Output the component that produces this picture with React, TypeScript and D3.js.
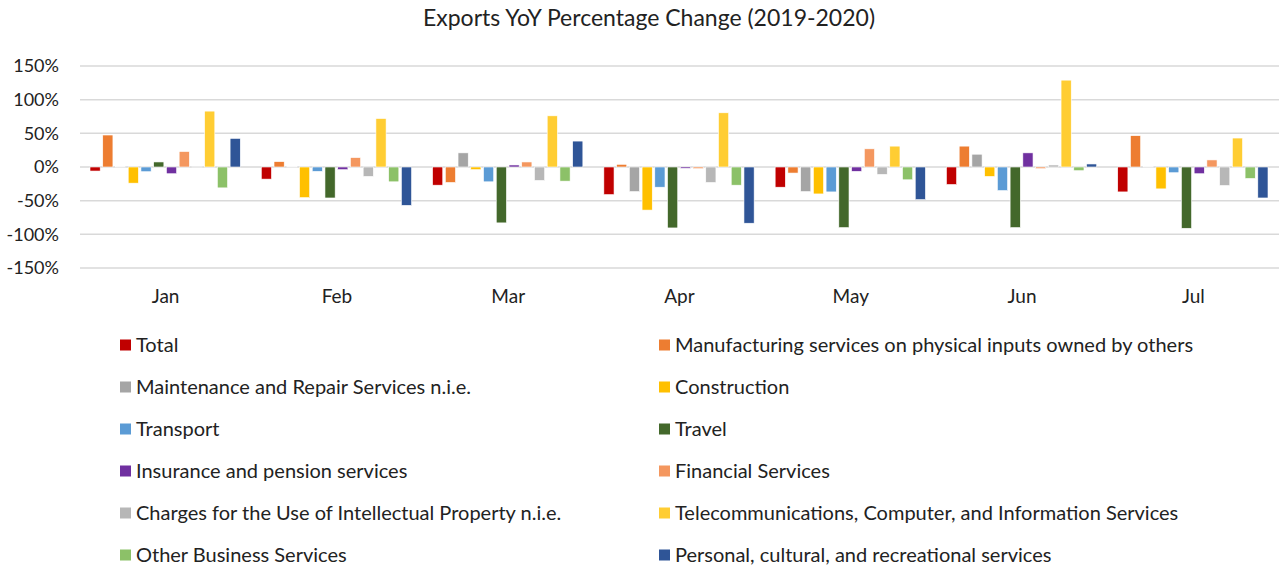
import React from "react";
import * as d3 from "d3";

const months = ["Jan", "Feb", "Mar", "Apr", "May", "Jun", "Jul"];

const seriesNames = [
  "Total",
  "Manufacturing services on physical inputs owned by others",
  "Maintenance and Repair Services n.i.e.",
  "Construction",
  "Transport",
  "Travel",
  "Insurance and pension services",
  "Financial Services",
  "Charges for the Use of Intellectual Property n.i.e.",
  "Telecommunications, Computer, and Information Services",
  "Other Business Services",
  "Personal, cultural, and recreational services",
];

const seriesColors = [
  "#C00000", "#ED7D31", "#A5A5A5", "#FFC000", "#5B9BD5", "#43682B",
  "#7030A0", "#F4975F", "#B7B7B7", "#FFCD33", "#8CC168", "#2F5597",
];

const total = [-6, -18, -27, -41, -30, -26, -37];
const manufacturing = [47.5, 8, -23, 4, -9, 31, 46.5];
const maintenance = [1, 1, 21, -36.5, -36.5, 19, 1];
const construction = [-24, -45.5, -4, -64, -40, -14, -32.5];
const transport = [-7, -6.5, -22, -30, -37, -35, -8.5];
const travel = [7.5, -46, -83, -90.5, -90, -90, -91];
const insurance = [-10, -4, 3, -2, -6.5, 21, -10];
const financial = [23, 14, 7.5, -2.5, 27, -2.5, 10.5];
const charges = [0.3, -14, -20, -23, -11, 3, -27.5];
const telecom = [83, 72, 76, 80.5, 31, 129, 43];
const otherBusiness = [-31, -22, -21, -27, -19, -5.5, -17];
const personal = [42.5, -57, 38.5, -83.5, -48.5, 4.5, -46];

const seriesValues = [
  total, manufacturing, maintenance, construction, transport, travel,
  insurance, financial, charges, telecom, otherBusiness, personal,
];

const yTicks = [-150, -100, -50, 0, 50, 100, 150];

const W = 1283;
const H = 567;
const FONT = "Lato, 'Open Sans', sans-serif";

export default function App() {
  const x0 = d3.scaleBand<string>().domain(months).range([80, 1279]).paddingInner(0).paddingOuter(0);
  const bw = x0.bandwidth();
  const x1 = d3
    .scaleBand<number>()
    .domain(d3.range(seriesNames.length))
    .range([10, bw - 11])
    .paddingInner(0.2)
    .paddingOuter(0);
  const y = d3.scaleLinear().domain([-150, 150]).range([268, 66]);

  return (
    <svg width={W} height={H} style={{ position: "absolute", left: 0, top: 0, background: "#fff" }} fontFamily={FONT}>
      <rect x={0} y={0} width={W} height={H} fill="#fff" />
      <text x={649} y={18} dy="0.35em" textAnchor="middle" fontSize={23} fill="#222">
        Exports YoY Percentage Change (2019-2020)
      </text>
      {yTicks.map((t) => (
        <g key={t}>
          <line x1={80} x2={1279} y1={y(t)} y2={y(t)} stroke="#D9D9D9" strokeWidth={1.5} />
          <text x={59} y={y(t)} dy="0.35em" textAnchor="end" fontSize={18} fill="#222">
            {t}%
          </text>
        </g>
      ))}
      {months.map((m, mi) => (
        <g key={m} transform={`translate(${x0(m)},0)`}>
          {seriesValues.map((vals, si) => {
            const v = vals[mi];
            const y0 = y(0);
            const yv = y(v);
            return (
              <rect
                key={si}
                x={x1(si)}
                y={Math.min(y0, yv)}
                width={x1.bandwidth()}
                height={Math.abs(yv - y0)}
                fill={seriesColors[si]}
                stroke="#fff"
                strokeWidth={0.6}
              />
            );
          })}
          <text x={bw / 2} y={296} dy="0.35em" textAnchor="middle" fontSize={19} fill="#222">
            {m}
          </text>
        </g>
      ))}
      {seriesNames.map((name, i) => {
        const col = i % 2;
        const row = Math.floor(i / 2);
        const lx = col === 0 ? 120 : 659;
        const ly = 345 + row * 42;
        return (
          <g key={name} transform={`translate(${lx},${ly})`}>
            <rect x={0} y={-5.5} width={11} height={11} fill={seriesColors[i]} />
            <text x={16} y={0} dy="0.35em" fontSize={20} fill="#222">
              {name}
            </text>
          </g>
        );
      })}
    </svg>
  );
}
